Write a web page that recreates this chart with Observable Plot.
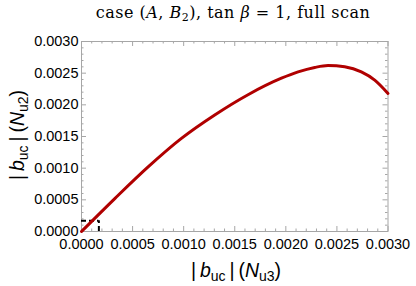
<!DOCTYPE html>
<html><head><meta charset="utf-8">
<script src="https://cdn.jsdelivr.net/npm/d3@7"></script>
<script src="https://cdn.jsdelivr.net/npm/@observablehq/plot@0.6"></script>
<style>body{margin:0;background:#fff}#chart svg{display:block}</style>
</head><body><div id="chart"></div>
<script>
// curve samples: |b_uc|(N_u3) vs |b_uc|(N_u2)
const curveX = [0, 0.000326, 0.000652, 0.000978, 0.001304, 0.00163, 0.001957, 0.00212, 0.002283, 0.002413, 0.002576, 0.002739, 0.00287, 0.003];
const curveY = [0, 0.00052, 0.00102, 0.00147, 0.00184, 0.00216, 0.00242, 0.00252, 0.00259, 0.00262, 0.002600, 0.002520, 0.002390, 0.00218];
const majorTicks = [0, 0.0005, 0.001, 0.0015, 0.002, 0.0025, 0.003];
const minorTicks = [0.0001, 0.0002, 0.0003, 0.0004, 0.0006, 0.0007, 0.0008, 0.0009, 0.0011, 0.0012, 0.0013, 0.0014, 0.0016, 0.0017, 0.0018, 0.0019, 0.0021, 0.0022, 0.0023, 0.0024, 0.0026, 0.0027, 0.0028, 0.0029];
const boxX = [0.00017];
const boxY = [0.00017];

const W = 416, H = 286, mt = 41, mb = 55, ml = 81, mr = 28.5;
const fh = H - mt - mb, fw = W - ml - mr;
const gray = "#a6a6a6";
const majLen = 5, minLen = 2.5;
const points = curveX.map((x, i) => ({x, y: curveY[i]}));

const plot = Plot.plot({
  width: W, height: H,
  marginTop: mt, marginBottom: mb, marginLeft: ml, marginRight: mr,
  x: {domain: [0, 0.003]},
  y: {domain: [0, 0.003]},
  style: {fontFamily: "Liberation Sans, Arial, sans-serif", fontSize: "14.5px", color: "#000", background: "#fff", overflow: "visible"},
  marks: [
    Plot.tickX(minorTicks, {x: d => d, stroke: gray, insetTop: fh - minLen}),
    Plot.tickX(minorTicks, {x: d => d, stroke: gray, insetBottom: fh - minLen}),
    Plot.tickX(majorTicks, {x: d => d, stroke: gray, insetTop: fh - majLen}),
    Plot.tickX(majorTicks, {x: d => d, stroke: gray, insetBottom: fh - majLen}),
    Plot.tickY(minorTicks, {y: d => d, stroke: gray, insetRight: fw - minLen}),
    Plot.tickY(minorTicks, {y: d => d, stroke: gray, insetLeft: fw - minLen}),
    Plot.tickY(majorTicks, {y: d => d, stroke: gray, insetRight: fw - majLen}),
    Plot.tickY(majorTicks, {y: d => d, stroke: gray, insetLeft: fw - majLen}),
    Plot.frame({stroke: gray}),
    Plot.axisX({ticks: majorTicks, tickSize: 0, tickPadding: 7, tickFormat: d3.format(".4f"), label: null}),
    Plot.axisY({ticks: majorTicks, tickSize: 0, tickPadding: 3, tickFormat: d3.format(".4f"), label: null}),
    Plot.ruleY(boxY, {y: d => d, x1: 0, x2: boxX[0], stroke: "#000", strokeWidth: 2, strokeDasharray: "5,3"}),
    Plot.ruleX(boxX, {x: d => d, y1: 0, y2: boxY[0], stroke: "#000", strokeWidth: 2, strokeDasharray: "5,3"}),
    Plot.line(points, {x: "x", y: "y", stroke: "#b00000", strokeWidth: 3, curve: "monotone-x"})
  ]
});
document.getElementById("chart").appendChild(plot);

const svg = d3.select(plot);
// title
const t = svg.append("text").attr("x", 233).attr("y", 18).attr("text-anchor", "middle")
  .attr("font-family", "DejaVu Serif, serif").attr("font-size", 16).attr("letter-spacing", 0.5).attr("fill", "#000");
t.append("tspan").text("case (");
t.append("tspan").attr("font-style", "italic").text("A");
t.append("tspan").text(", ");
t.append("tspan").attr("font-style", "italic").text("B");
t.append("tspan").attr("font-size", 11).attr("dy", 3).text("2");
t.append("tspan").attr("dy", -3).text("), tan ");
t.append("tspan").attr("font-style", "italic").text("β");
t.append("tspan").text(" = 1, full scan");

function axisLabel(sel, sub2) {
  sel.attr("font-family", "Liberation Sans, Arial, sans-serif").attr("font-size", 19.5).attr("fill", "#000");
  sel.append("tspan").text("|\u2009");
  sel.append("tspan").attr("font-style", "italic").text("b");
  sel.append("tspan").attr("font-size", 14).attr("dy", 4).text("uc");
  sel.append("tspan").attr("dy", -4).text("\u2009|\u2009(");
  sel.append("tspan").attr("font-style", "italic").text("N");
  sel.append("tspan").attr("font-size", 14).attr("dy", 4).text(sub2);
  sel.append("tspan").attr("dy", -4).text(")");
}
axisLabel(svg.append("text").attr("x", 236).attr("y", 277).attr("text-anchor", "middle"), "u3");
axisLabel(svg.append("text").attr("transform", "translate(24,135) rotate(-90)").attr("text-anchor", "middle"), "u2");
</script>
</body></html>
